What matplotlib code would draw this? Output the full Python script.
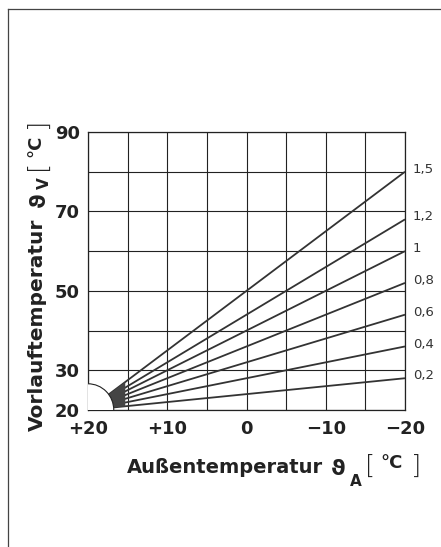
import matplotlib
matplotlib.use("Agg")
import matplotlib.pyplot as plt
from matplotlib.patches import Ellipse, Polygon
from matplotlib.lines import Line2D

plt.rcParams['font.family'] = ['DejaVu Sans']

# Heizkennlinien: Steilheit und Vorlauftemperatur bei -20 °C Außentemperatur
slopes = ['0,2', '0,4', '0,6', '0,8', '1', '1,2', '1,5']
t_start = 20          # Außentemperatur am Fußpunkt
v_start = 20          # Vorlauftemperatur am Fußpunkt
t_end = -20
v_end = [28, 36, 44, 52, 60, 68, 80]

x_ticks = [20, 15, 10, 5, 0, -5, -10, -15, -20]
x_labels = ['+20', '', '+10', '', '0', '', '\u221210', '', '\u221220']
y_ticks = [20, 30, 40, 50, 60, 70, 80, 90]
y_labels = ['20', '30', '', '50', '', '70', '', '90']

W, H = 441, 547
INK = '#222222'
fig = plt.figure(figsize=(W / 100, H / 100), dpi=100)
ax = fig.add_axes([88 / W, 1 - 410 / H, (405 - 88) / W, (410 - 132) / H])


def px(x, y):
    # Pixelkoordinaten der Vorlage -> Figurkoordinaten
    return x / W, 1 - y / H


ax.set_xlim(20, -20)
ax.set_ylim(20, 90)
ax.set_xticks(x_ticks)
ax.set_xticklabels(x_labels)
ax.set_yticks(y_ticks)
ax.set_yticklabels(y_labels)
ax.tick_params(length=0, labelsize=13, colors=INK)
ax.tick_params(axis='x', pad=7)
ax.tick_params(axis='y', pad=6)
for t in ax.get_xticklabels() + ax.get_yticklabels():
    t.set_fontweight('bold')
ax.grid(True, color=INK, lw=0.8)
for s in ax.spines.values():
    s.set_color(INK)
    s.set_linewidth(0.9)

# Kennlinien
for lab, v in zip(slopes, v_end):
    ax.plot([t_start, t_end], [v_start, v], color='#333333', lw=1.3,
            solid_capstyle='butt', zorder=3)
    ax.text(-21.0, v + 0.6, lab, fontsize=9.5, color='#333333',
            ha='left', va='center', clip_on=False)

# dunkler Keil am Fußpunkt, wo die Linien zusammenlaufen
x1 = 15.3
k_hi = (v_end[-1] - v_start) / (t_start - t_end)
k_lo = (v_end[0] - v_start) / (t_start - t_end)
ax.add_patch(Polygon([(t_start, v_start),
                      (x1, v_start + k_hi * (t_start - x1)),
                      (x1, v_start + k_lo * (t_start - x1))],
                     closed=True, color='#444444', lw=0, zorder=3))

# Viertelkreis am Fußpunkt
ax.add_patch(Ellipse((t_start, v_start), 2 * 3.25, 2 * 6.6, facecolor='white',
                     edgecolor=INK, lw=0.8, zorder=4))

# Achsentitel x, aus Teilen zusammengesetzt
fig.text(*px(127, 473), 'Au\u00dfentemperatur', fontsize=14, fontweight='bold',
         color=INK, ha='left', va='baseline')
fig.text(*px(331, 475), '\u03d1', fontsize=16, fontweight='bold', color=INK,
         ha='left', va='baseline')
fig.text(*px(350, 486), 'A', fontsize=11, fontweight='bold', color=INK,
         ha='left', va='baseline')
fig.text(*px(365, 474), '[', fontsize=19, fontweight='light', color=INK,
         ha='left', va='baseline')
fig.text(*px(392, 468), '\u00b0C', fontsize=13, fontweight='bold', color=INK,
         ha='center', va='baseline')
fig.text(*px(411, 474), ']', fontsize=19, fontweight='light', color=INK,
         ha='left', va='baseline')

# Achsentitel y, gedreht
rot = dict(rotation=90, rotation_mode='anchor', va='baseline', color=INK)
fig.text(*px(43, 431), 'Vorlauftemperatur', fontsize=14.5, fontweight='bold',
         ha='left', **rot)
fig.text(*px(45, 207), '\u03d1', fontsize=16, fontweight='bold', ha='left', **rot)
fig.text(*px(49, 189), 'V', fontsize=11, fontweight='bold', ha='left', **rot)
fig.text(*px(45, 170), '[', fontsize=19, fontweight='light', ha='left', **rot)
fig.text(*px(40, 146), '\u00b0C', fontsize=13, fontweight='bold', ha='center', **rot)
fig.text(*px(45, 128), ']', fontsize=19, fontweight='light', ha='left', **rot)

# Rahmen der Vorlage
fig.add_artist(Line2D([8 / W, 8 / W], [0, 1 - 9 / H], color='#444444', lw=0.9))
fig.add_artist(Line2D([8 / W, 1], [1 - 9 / H, 1 - 9 / H], color='#444444', lw=0.9))

fig.savefig('out.png', dpi=100)
